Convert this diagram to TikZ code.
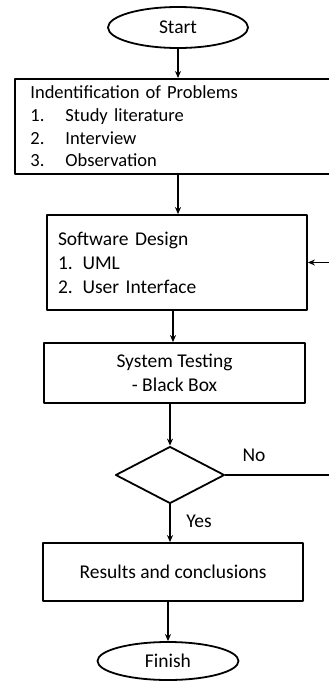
\documentclass[tikz,border=0pt]{standalone}
\usepackage{fontspec}
\setmainfont{Carlito}
\usetikzlibrary{shapes.geometric,arrows.meta}
\tikzset{
  box/.style={draw, line width=1.8pt, rectangle, inner sep=0pt},
  term/.style={draw, line width=1.8pt, ellipse, inner sep=0pt},
  dec/.style={draw, line width=1.8pt, diamond, inner sep=0pt},
  arr/.style={line width=1.6pt, -{Stealth[length=7pt,width=6pt]}},
  lbl/.style={inner sep=0pt}
}
\begin{document}
\begin{tikzpicture}[x=1pt, y=-1pt, font=\fontsize{19.5}{23.5}\selectfont, line join=round]
\useasboundingbox (0,0) rectangle (329,681);
\clip (0,0) rectangle (329,681);
\node[term, minimum width=140pt, minimum height=41pt] (start) at (178,27.5) {Start};
\node[box, minimum width=331pt, minimum height=95pt, anchor=north west, text width=300pt, align=left, inner xsep=14pt,
  font=\fontsize{18.5}{22.7}\selectfont] (prob) at (14,78)
  {Indentification of Problems\\
   \makebox[35pt][l]{1.}Study literature\\
   \makebox[35pt][l]{2.}Interview\\
   \makebox[35pt][l]{3.}Observation};
\node[box, minimum width=260pt, minimum height=95pt, text width=238pt, align=left] (design) at (177,262.5)
  {Software Design\\[0.5pt] 1. UML\\[0.5pt] 2. User Interface};
\node[box, minimum width=261pt, minimum height=60pt, align=center] (test) at (174.5,373)
  {System Testing\\ - Black Box};
\node[dec, minimum width=109pt, minimum height=57pt] (check) at (170,475) {};
\node[box, minimum width=260pt, minimum height=58pt] (result) at (173,572) {Results and conclusions};
\node[term, minimum width=141pt, minimum height=38pt] (finish) at (168,661) {Finish};
\coordinate (back) at (345,475);
\coordinate (mid) at (173,320);
% connectors
\draw[arr] (start) -- (start |- prob.north);
\draw[arr] (prob.south -| start) -- (design.north -| start);
\draw[arr] (design.south -| mid) -- (test.north -| mid);
\draw[arr] (test.south -| check) -- (check.north);
\draw[arr] (check.south) -- (result.north -| check);
\draw[arr] (result.south -| finish) -- (finish.north);
\draw[arr] (check.east) -- (back) |- (design.east);
\node[lbl] (no) at (254,455) {No};
\node[lbl] (yes) at (199,521) {Yes};
\end{tikzpicture}
\end{document}
